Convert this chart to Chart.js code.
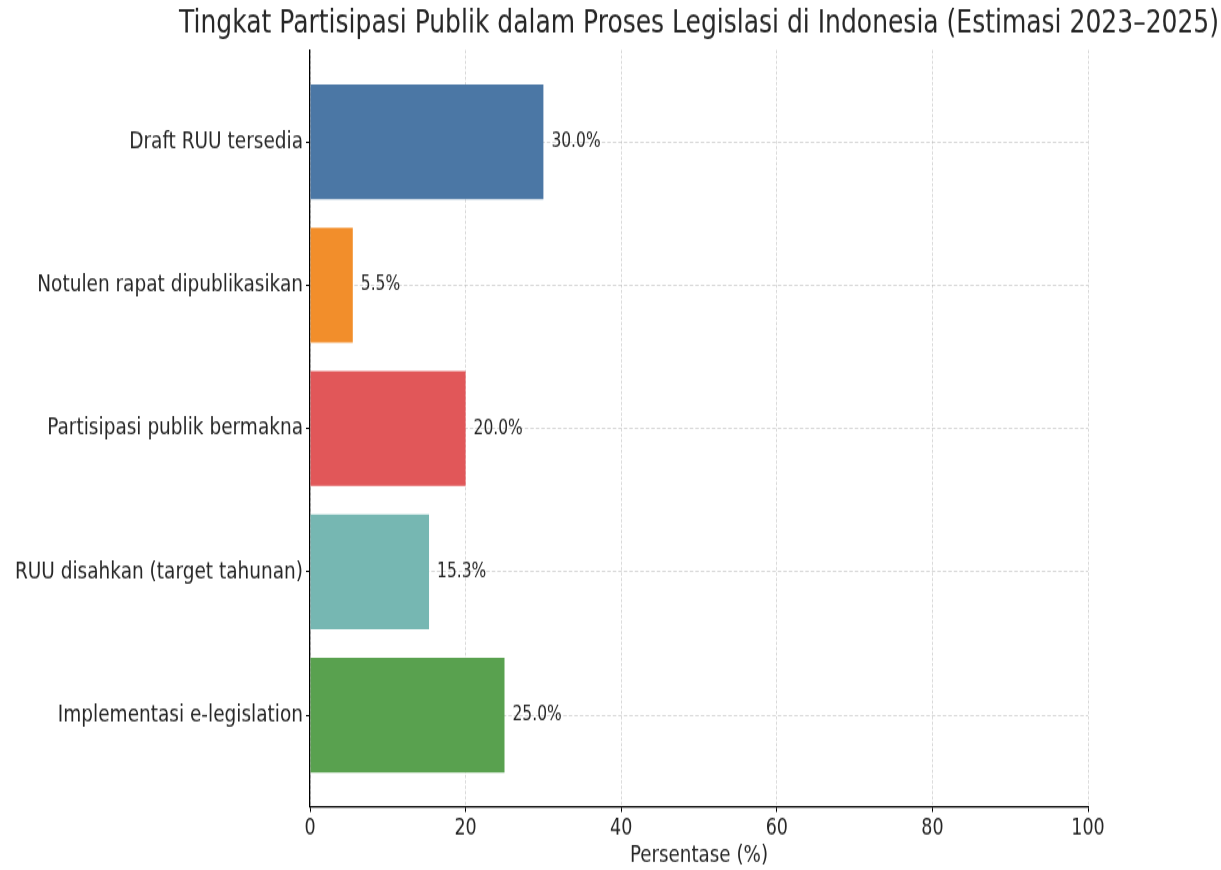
<!DOCTYPE html>
<html>
<head>
<meta charset="utf-8">
<title>Partisipasi Publik</title>
<script src="https://cdn.jsdelivr.net/npm/chart.js@4.4.0/dist/chart.umd.min.js"></script>
<style>
  html { overflow: hidden; }
  html, body { margin: 0; padding: 0; background: #fff; }
  body { height: 870px; }
  /* gambar asli tampak tertarik secara vertikal, jadi wadah diregangkan */
  #wadah { width: 1221px; height: 669px; transform: scaleY(1.3); transform-origin: 0 0; }
  #grafik { display: block; }
</style>
</head>
<body>
<div id="wadah"><canvas id="grafik" width="1221" height="669"></canvas></div>
<script>
const kategori = ['Draft RUU tersedia', 'Notulen rapat dipublikasikan', 'Partisipasi publik bermakna', 'RUU disahkan (target tahunan)', 'Implementasi e-legislation'];
const persentase = [30.0, 5.5, 20.0, 15.3, 25.0];
const warna = ['#4b77a5', '#f28e2b', '#e15759', '#76b7b2', '#59a14f'];
const tickX = [0, 20, 40, 60, 80, 100];
const judul = 'Tingkat Partisipasi Publik dalam Proses Legislasi di Indonesia (Estimasi 2023–2025)';
const judulSumbuX = 'Persentase (%)';

const grafik = document.getElementById('grafik');
const warnaTeks = '#262626';
Chart.defaults.font.family = 'DejaVu Sans';

// label nilai di ujung batang + judul di tengah area plot
const pluginTeks = {
    id: 'pluginTeks',
    afterDraw(chart) {
        const ctx = chart.ctx;
        const area = chart.chartArea;
        ctx.save();
        ctx.fillStyle = warnaTeks;
        ctx.textBaseline = 'middle';
        ctx.textAlign = 'left';
        ctx.font = '15.5px "DejaVu Sans"';
        chart.getDatasetMeta(0).data.forEach(function(batang, i) {
            ctx.fillText(persentase[i].toFixed(1) + '%', batang.x + 8, batang.y);
        });
        ctx.textAlign = 'center';
        ctx.font = '25px "DejaVu Sans"';
        ctx.fillText(judul, (area.left + area.right) / 2, 18.5);
        ctx.restore();
    }
};

const dataBatang = persentase.map(function(nilai, i) {
    return { x: nilai, y: i };
});

const konfigurasi = {
    type: 'bar',
    data: {
        datasets: [{
            data: dataBatang,
            backgroundColor: warna,
            borderWidth: 0,
            barPercentage: 1,
            categoryPercentage: 0.8
        }]
    },
    options: {
        indexAxis: 'y',
        responsive: false,
        maintainAspectRatio: false,
        devicePixelRatio: 1,
        animation: false,
        layout: { padding: { top: 38.5, right: 133, left: 0, bottom: 0 } },
        plugins: {
            legend: { display: false },
            tooltip: { enabled: false },
            title: { display: false }
        },
        scales: {
            x: {
                type: 'linear',
                min: 0,
                max: 100,
                z: 1,
                afterBuildTicks: function(skala) {
                    skala.ticks = tickX.map(function(v) { return { value: v }; });
                },
                afterFit: function(skala) { skala.height = 48.4; },
                ticks: { color: warnaTeks, font: { size: 17.5 }, padding: 2 },
                grid: { color: 'rgba(185,185,185,0.55)', lineWidth: 1, tickColor: '#000', tickLength: 4, tickWidth: 1 },
                border: { display: true, color: '#000', width: 1.3, dash: [2.5, 1.6] },
                title: { display: true, text: judulSumbuX, color: warnaTeks, font: { size: 18.3 }, padding: { top: 0, bottom: 0 } }
            },
            y: {
                type: 'linear',
                reverse: true,
                offset: false,
                min: -0.64,
                max: 4.64,
                z: 1,
                afterBuildTicks: function(skala) {
                    skala.ticks = kategori.map(function(_, i) { return { value: i }; });
                },
                afterFit: function(skala) { skala.width = 310; },
                ticks: {
                    color: warnaTeks,
                    font: { size: 18.5 },
                    padding: 3,
                    autoSkip: false,
                    callback: function(v) { return kategori[v]; }
                },
                grid: { offset: false, color: 'rgba(185,185,185,0.55)', lineWidth: 1, tickColor: '#000', tickLength: 4, tickWidth: 1 },
                border: { display: true, color: '#000', width: 1.3, dash: [3.5, 2] }
            }
        }
    },
    plugins: [pluginTeks]
};

new Chart(grafik, konfigurasi);
</script>
</body>
</html>
